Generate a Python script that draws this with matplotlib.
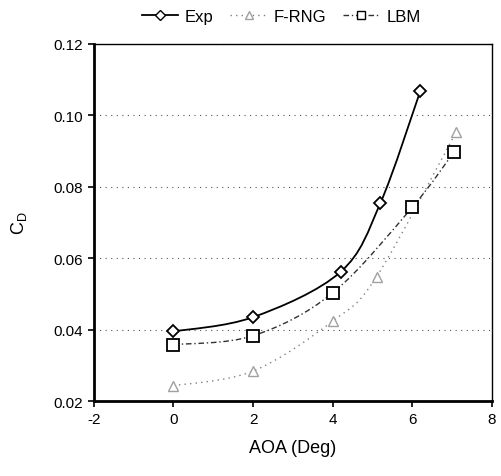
import numpy as np
import matplotlib
matplotlib.use("Agg")
import matplotlib.pyplot as plt
from matplotlib.path import Path
from matplotlib.patches import PathPatch
from matplotlib.lines import Line2D

plt.rcParams['font.family'] = ['Liberation Sans', 'DejaVu Sans']
plt.rcParams['axes.unicode_minus'] = False

# data
exp_aoa = [0, 2, 4.2, 5.2, 6.2]
exp_cd = [0.0395, 0.0435, 0.0562, 0.0755, 0.1068]
rng_aoa = [0, 2, 4, 5.1, 7.1]
rng_cd = [0.0243, 0.0284, 0.0424, 0.0548, 0.0953]
lbm_aoa = [0, 2, 4, 6, 7.05]
lbm_cd = [0.0358, 0.0383, 0.0503, 0.0743, 0.0898]


def smooth_path(x, y):
    # Catmull-Rom style bezier, like spreadsheet "smoothed line"
    pts = np.column_stack([x, y])
    n = len(pts)
    verts = [pts[0]]
    codes = [Path.MOVETO]
    for i in range(n - 1):
        p0 = pts[i - 1] if i > 0 else pts[i]
        p1 = pts[i]
        p2 = pts[i + 1]
        p3 = pts[i + 2] if i + 2 < n else pts[i + 1]
        c1 = p1 + (p2 - p0) / 6.0
        c2 = p2 - (p3 - p1) / 6.0
        verts += [c1, c2, p2]
        codes += [Path.CURVE4] * 3
    return Path(verts, codes)


fig = plt.figure(figsize=(5.02, 4.77), dpi=100)
ax = fig.add_axes([0.187, 0.157, 0.793, 0.749])

ax.add_patch(PathPatch(smooth_path(exp_aoa, exp_cd), fill=False,
                       edgecolor='black', lw=1.3, zorder=3))
ax.add_patch(PathPatch(smooth_path(rng_aoa, rng_cd), fill=False,
                       edgecolor='#808080', lw=1.0, ls=(0, (1, 3)), zorder=3))
ax.add_patch(PathPatch(smooth_path(lbm_aoa, lbm_cd), fill=False,
                       edgecolor='#303030', lw=1.0, ls=(0, (4, 2, 1, 2)), zorder=3))

ax.plot(exp_aoa, exp_cd, ls='none', marker='D', ms=6, mfc='white',
        mec='black', mew=1.3, zorder=4)
ax.plot(rng_aoa, rng_cd, ls='none', marker='^', ms=7, mfc='white',
        mec='#a0a0a0', mew=1.0, zorder=4)
ax.plot(lbm_aoa, lbm_cd, ls='none', marker='s', ms=8, mfc='white',
        mec='black', mew=1.3, zorder=4)

ax.set_xlim(-2, 8)
ax.set_ylim(0.02, 0.12)
ax.set_xticks([-2, 0, 2, 4, 6, 8])
ax.set_yticks([0.02, 0.04, 0.06, 0.08, 0.10, 0.12])
ax.set_yticklabels(['0.02', '0.04', '0.06', '0.08', '0.10', '0.12'])
ax.yaxis.grid(True, color='#555555', ls=(0, (1, 4)), lw=0.8)
ax.set_axisbelow(True)
ax.tick_params(direction='out', length=4, width=1.2, labelsize=11, colors='black')
for side in ['top', 'right']:
    ax.spines[side].set_linewidth(1.0)
for side in ['left', 'bottom']:
    ax.spines[side].set_linewidth(2.0)

ax.set_xlabel('AOA (Deg)', fontsize=13, labelpad=10)
ax.set_ylabel('C$_\\mathregular{D}$', fontsize=13, labelpad=18)

handles = [
    Line2D([], [], color='black', lw=1.3, marker='D', ms=5, mfc='white', mec='black'),
    Line2D([], [], color='#808080', lw=1.0, ls=(0, (1, 3)), marker='^', ms=6,
           mfc='white', mec='#a0a0a0'),
    Line2D([], [], color='#303030', lw=1.0, ls=(0, (4, 2, 1, 2)), marker='s', ms=6,
           mfc='white', mec='black'),
]
fig.legend(handles, ['Exp', 'F-RNG', 'LBM'], loc='upper center',
           bbox_to_anchor=(0.56, 1.01), ncol=3, frameon=False, fontsize=12,
           handlelength=2.2, handletextpad=0.4, columnspacing=1.0)

fig.savefig('out.png', dpi=100)
